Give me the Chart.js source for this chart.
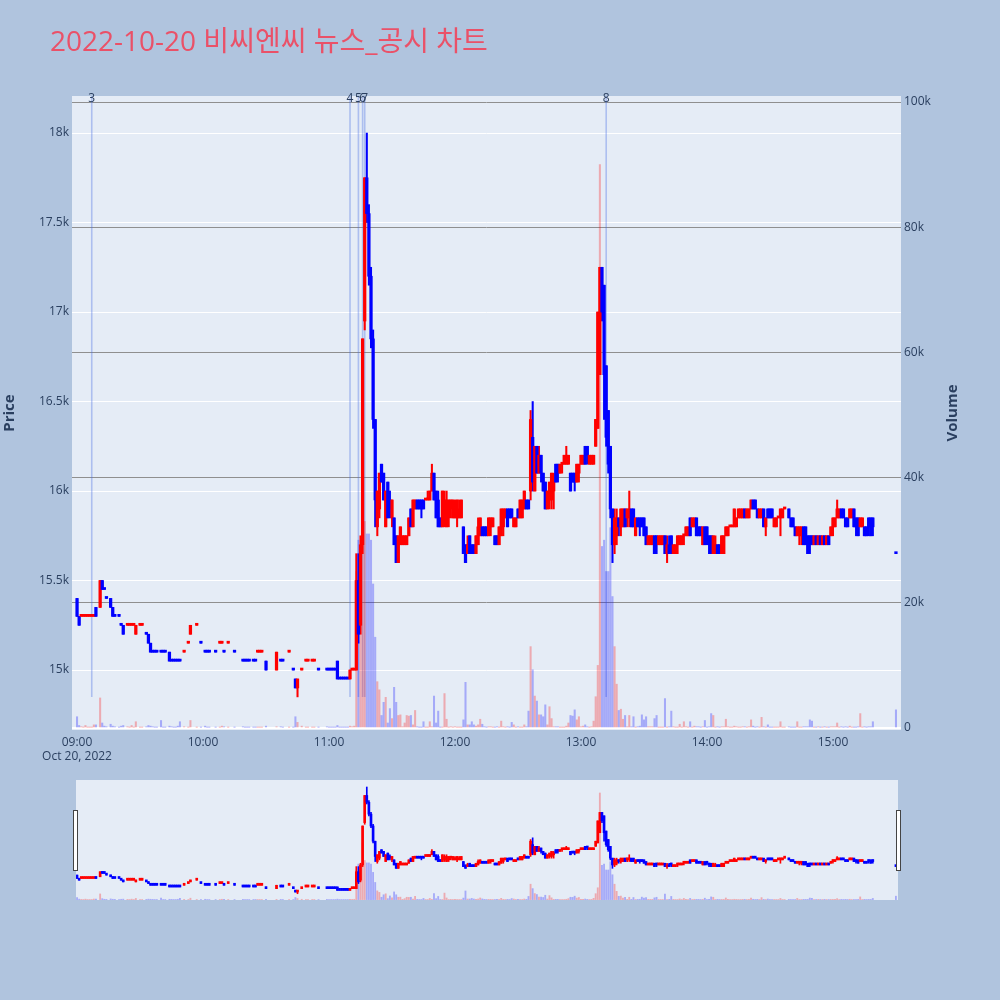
<!DOCTYPE html>
<html>
<head>
<meta charset="utf-8">
<script src="https://cdn.jsdelivr.net/npm/chart.js@4.4.0/dist/chart.umd.min.js"></script>
<style>
  html, body { margin: 0; padding: 0; background: #b0c4de; }
  #wrap { position: relative; width: 1000px; height: 1000px; }
  #main { position: absolute; left: 0; top: 0; }
  #slider { position: absolute; left: 70px; top: 780px; }
  #title {
    position: absolute; left: 50px; top: 26px;
    font-family: 'Open Sans', 'Noto Sans CJK KR', sans-serif;
    font-size: 28px; line-height: 28px; color: #ea5168; white-space: nowrap;
  }
</style>
</head>
<body>
<div id="wrap">
  <canvas id="main" width="1000" height="1000"></canvas>
  <canvas id="slider" width="834" height="120"></canvas>
  <div id="title">2022-10-20 비씨엔씨 뉴스_공시 차트</div>
</div>
<script>
const _ = null;

// one entry per minute after 09:00 (index 0 = 09:00), null = no trade
const opens = [
  15400,15300,15300,15300,15300,15300,15300,15300,15300,15350,
  _,15350,15500,15450,15400,_,15400,15350,15300,_,
  15300,15250,15250,_,15250,15250,15250,15250,15200,_,
  15250,15250,_,15200,15200,15150,15100,15100,15100,_,
  15100,15100,15100,_,15100,15050,15050,15050,15050,15050,
  _,15100,_,15150,15200,_,_,15250,_,15150,
  _,15100,15100,15100,_,_,15100,_,15150,15150,
  15100,_,15150,_,_,15100,_,_,_,15050,
  15050,15050,15050,_,15050,15050,15100,15100,15100,_,
  15050,_,_,_,_,15000,_,15050,15050,_,
  _,15100,_,15000,14950,14900,_,15000,_,15050,
  15050,_,15050,15050,_,15000,_,_,_,15000,
  15000,15000,15000,15000,15050,14950,14950,14950,14950,14950,
  14950,15000,15000,15000,15500,15250,15700,16950,17750,17550,
  17200,16850,16400,15800,15900,16150,16100,15800,16050,15950,
  15850,15850,15750,15600,15700,15700,15700,15700,15750,15900,
  15800,15900,15950,15950,15950,15950,15950,15950,15950,16000,
  16100,16000,15950,15850,15800,15850,15800,15850,15900,15850,
  15850,15850,15850,15850,15800,15700,15650,15750,15700,15700,
  15650,15700,15750,15800,15800,15800,15750,15800,15800,15750,
  15750,15700,15750,15800,15850,15900,15900,15900,15800,15800,
  15900,15850,15850,15900,15950,15950,16000,16300,16000,16250,
  16100,16200,16100,16050,15900,15950,15950,16000,16150,16150,
  16100,16150,16150,16150,16150,16100,16100,16100,16050,16100,
  16150,16150,16250,16250,16150,16150,16150,16250,16350,16650,
  17250,17150,16700,16450,16250,15900,15700,15750,15850,15800,
  15800,15900,15850,15850,15900,15900,15750,15850,15850,15850,
  15850,15800,15700,15700,15700,15750,15750,15700,15700,15700,
  15750,15650,15700,15750,15650,15650,15700,15700,15700,15750,
  15750,15750,15850,15800,15800,15850,15800,15800,15700,15800,
  15800,15750,15750,15650,15650,15700,15700,15650,15650,15750,
  15750,15800,15800,15800,15800,15850,15850,15850,15900,15850,
  15850,15900,15950,15950,15900,15850,15850,15900,15800,15900,
  15900,15900,15800,15800,15850,15850,15850,15900,_,15900,
  15850,15850,15800,15750,15750,15750,15800,15800,15750,15750,
  15750,15700,15750,15700,15750,15700,15750,15700,15750,15750,
  15800,15800,15850,15850,15900,15900,15850,15850,15850,15850,
  15900,15850,15850,15800,15800,15800,15800,15850,15850,15850,
  _,_,_,_,_,_,_,_,_,_,
  15650
];

const highs = [
  15400,15300,15300,15300,15300,15300,15300,15300,15300,15350,
  _,15500,15500,15450,15400,_,15400,15350,15300,_,
  15300,15250,15250,_,15250,15250,15250,15250,15250,_,
  15250,15250,_,15200,15200,15150,15100,15100,15100,_,
  15100,15100,15100,_,15100,15050,15050,15050,15050,15050,
  _,15100,_,15150,15250,_,_,15250,_,15150,
  _,15100,15100,15100,_,_,15100,_,15150,15150,
  15100,_,15150,_,_,15100,_,_,_,15050,
  15050,15050,15050,_,15050,15050,15100,15100,15100,_,
  15050,_,_,_,_,15100,_,15050,15050,_,
  _,15100,_,15000,14950,14950,_,15000,_,15050,
  15050,_,15050,15050,_,15000,_,_,_,15000,
  15000,15000,15000,15000,15050,14950,14950,14950,14950,14950,
  15000,15000,15000,15650,15650,15750,16850,17750,18000,17600,
  17250,16900,16400,16000,16100,16150,16100,16000,16050,16000,
  15950,15850,15750,15750,15800,15750,15750,15750,15850,15900,
  15950,15950,15950,15950,15950,15950,15950,16000,16000,16150,
  16100,16000,16000,15850,16000,16000,16000,15950,15950,15950,
  15950,15950,15950,15950,15800,15700,15750,15750,15700,15700,
  15750,15850,15850,15800,15800,15800,15850,15850,15850,15750,
  15750,15800,15900,15900,15900,15900,15900,15900,15850,15850,
  15900,15950,15950,16000,15950,15950,16450,16500,16250,16250,
  16250,16200,16100,16050,16000,16050,16100,16100,16150,16150,
  16150,16150,16200,16250,16200,16100,16100,16100,16150,16150,
  16200,16200,16250,16250,16200,16200,16200,16400,17000,17250,
  17250,17150,16700,16450,16250,15900,15900,15900,15850,15900,
  15900,15900,15900,16000,15900,15900,15850,15850,15850,15850,
  15850,15800,15750,15750,15750,15750,15750,15750,15750,15750,
  15750,15750,15750,15750,15700,15700,15750,15750,15750,15750,
  15800,15800,15850,15850,15850,15850,15800,15800,15800,15800,
  15800,15750,15750,15750,15750,15700,15700,15750,15750,15800,
  15800,15800,15800,15900,15850,15900,15900,15900,15900,15900,
  15900,15950,15950,15950,15900,15900,15900,15900,15850,15900,
  15900,15900,15850,15850,15850,15900,15900,15900,_,15900,
  15850,15850,15800,15800,15800,15800,15800,15800,15750,15750,
  15750,15750,15750,15750,15750,15750,15750,15750,15750,15800,
  15850,15850,15950,15900,15900,15900,15850,15850,15900,15900,
  15900,15850,15850,15850,15850,15800,15800,15850,15850,15850,
  _,_,_,_,_,_,_,_,_,_,
  15650
];

const lows = [
  15300,15250,15300,15300,15300,15300,15300,15300,15300,15300,
  _,15350,15450,15450,15400,_,15350,15300,15300,_,
  15300,15250,15200,_,15250,15250,15250,15250,15200,_,
  15250,15250,_,15200,15150,15100,15100,15100,15100,_,
  15100,15100,15100,_,15050,15050,15050,15050,15050,15050,
  _,15100,_,15150,15200,_,_,15250,_,15150,
  _,15100,15100,15100,_,_,15100,_,15150,15150,
  15100,_,15150,_,_,15100,_,_,_,15050,
  15050,15050,15050,_,15050,15050,15100,15100,15100,_,
  15000,_,_,_,_,15000,_,15050,15050,_,
  _,15100,_,15000,14900,14850,_,15000,_,15050,
  15050,_,15050,15050,_,15000,_,_,_,15000,
  15000,15000,15000,15000,14950,14950,14950,14950,14950,14950,
  14950,15000,15000,15000,15150,15200,15650,16900,17500,17150,
  16800,16350,15800,15750,15850,16050,15950,15800,15850,15850,
  15800,15700,15600,15600,15700,15700,15700,15700,15750,15800,
  15800,15900,15900,15900,15850,15900,15950,15950,15950,16000,
  15950,15850,15800,15800,15800,15800,15800,15800,15850,15850,
  15850,15800,15850,15850,15650,15600,15650,15650,15650,15650,
  15650,15700,15750,15750,15750,15750,15750,15750,15800,15700,
  15700,15700,15750,15750,15850,15800,15850,15850,15800,15800,
  15850,15850,15850,15900,15900,15900,15950,16000,16000,16100,
  16100,16050,16000,15900,15900,15900,15900,15900,16050,16050,
  16100,16100,16150,16150,16150,16000,16050,16000,16050,16050,
  16150,16150,16150,16150,16150,16150,16150,16250,16350,16650,
  16950,16400,16250,16100,15850,15600,15650,15700,15750,15750,
  15800,15800,15800,15800,15800,15800,15750,15800,15750,15800,
  15750,15700,15700,15700,15700,15650,15650,15700,15700,15700,
  15650,15600,15650,15650,15650,15650,15650,15700,15700,15700,
  15750,15750,15750,15800,15800,15750,15750,15750,15700,15700,
  15700,15650,15650,15650,15650,15650,15650,15650,15650,15750,
  15750,15800,15800,15800,15800,15850,15850,15850,15850,15850,
  15850,15900,15900,15900,15850,15850,15850,15800,15750,15850,
  15850,15850,15800,15800,15850,15750,15850,15900,_,15850,
  15800,15800,15750,15750,15700,15700,15700,15700,15650,15650,
  15700,15700,15700,15700,15700,15700,15700,15700,15700,15750,
  15750,15800,15850,15850,15850,15850,15800,15800,15850,15850,
  15800,15750,15750,15800,15800,15750,15750,15750,15750,15750,
  _,_,_,_,_,_,_,_,_,_,
  15650
];

const closes = [
  15300,15250,15300,15300,15300,15300,15300,15300,15300,15300,
  _,15500,15450,15450,15400,_,15350,15300,15300,_,
  15300,15250,15200,_,15250,15250,15250,15250,15250,_,
  15250,15250,_,15200,15150,15100,15100,15100,15100,_,
  15100,15100,15100,_,15050,15050,15050,15050,15050,15050,
  _,15100,_,15150,15250,_,_,15250,_,15150,
  _,15100,15100,15100,_,_,15100,_,15150,15150,
  15100,_,15150,_,_,15100,_,_,_,15050,
  15050,15050,15050,_,15050,15050,15100,15100,15100,_,
  15000,_,_,_,_,15100,_,15050,15050,_,
  _,15100,_,15000,14900,14950,_,15000,_,15050,
  15050,_,15050,15050,_,15000,_,_,_,15000,
  15000,15000,15000,15000,14950,14950,14950,14950,14950,14950,
  15000,15000,15000,15500,15200,15700,16850,17750,17550,17200,
  16850,16400,15950,16000,16100,16050,15950,16000,15850,15900,
  15950,15700,15600,15750,15800,15750,15750,15750,15850,15800,
  15950,15950,15900,15900,15900,15900,15950,15950,16000,16100,
  15950,15850,15800,15800,16000,15950,15950,15950,15950,15950,
  15900,15950,15900,15950,15650,15600,15700,15650,15650,15650,
  15750,15800,15850,15750,15750,15750,15850,15850,15850,15700,
  15700,15800,15900,15900,15900,15800,15850,15850,15850,15850,
  15850,15950,15950,16000,15900,15900,16400,16050,16250,16100,
  16200,16100,16000,15900,16000,16050,16100,16050,16050,16100,
  16150,16150,16200,16200,16200,16000,16050,16050,16150,16150,
  16200,16200,16150,16200,16200,16200,16200,16400,17000,17250,
  17000,16650,16300,16150,15900,15700,15850,15850,15800,15900,
  15900,15800,15900,15900,15800,15800,15850,15800,15800,15800,
  15750,15700,15750,15750,15750,15650,15700,15750,15750,15750,
  15650,15700,15650,15700,15700,15700,15750,15750,15750,15750,
  15800,15800,15750,15850,15850,15750,15750,15750,15800,15700,
  15750,15700,15650,15750,15700,15650,15650,15750,15750,15800,
  15800,15800,15800,15900,15850,15900,15900,15900,15850,15900,
  15900,15950,15900,15900,15850,15900,15900,15800,15850,15850,
  15850,15850,15850,15850,15850,15900,15900,15900,_,15850,
  15800,15800,15750,15800,15800,15800,15700,15700,15650,15700,
  15700,15750,15700,15750,15700,15750,15700,15750,15700,15800,
  15850,15850,15900,15900,15850,15850,15800,15800,15900,15900,
  15800,15800,15750,15850,15850,15750,15750,15800,15750,15800,
  _,_,_,_,_,_,_,_,_,_,
  15650
];

const volumes = [
  1800,400,200,100,400,100,100,100,500,500,
  _,4800,800,300,200,_,600,300,200,_,
  100,300,400,_,200,100,400,100,1000,_,
  100,100,_,200,400,300,200,100,100,_,
  1200,100,100,_,300,200,100,100,300,1000,
  _,200,_,100,1200,_,_,100,_,100,
  _,300,100,100,_,_,100,_,100,300,
  200,_,100,_,_,100,_,_,_,200,
  100,100,100,_,100,100,100,100,100,_,
  300,_,_,_,_,200,_,200,100,_,
  _,100,_,100,1800,900,_,300,_,100,
  100,_,100,100,_,100,_,_,_,200,
  100,100,100,100,400,100,100,100,100,100,
  300,200,300,25000,30000,28000,48000,33000,31000,31000,
  30000,23000,14500,7400,6100,2000,4100,4900,800,3100,
  1500,6500,4100,2000,2100,200,800,2000,1900,2000,
  500,2800,200,100,100,1000,100,100,1000,200,
  5100,800,2700,100,100,5500,1400,100,200,100,
  200,100,100,100,1300,7300,500,500,1000,500,
  300,500,1400,600,200,100,200,200,100,100,
  200,100,1100,200,100,200,100,900,500,100,
  200,100,100,500,200,2700,13000,9300,5100,4300,
  2100,2100,1800,3700,500,3400,1500,200,200,200,
  100,100,100,300,800,2000,1900,2900,1300,1800,
  200,300,500,200,100,200,1100,5000,10000,90000,
  29000,30000,25000,25000,32000,21000,13000,7000,2800,3000,
  1400,2000,200,2000,200,1800,100,200,300,2100,
  1300,1800,200,200,200,1500,2000,100,100,100,
  4700,100,200,2700,200,100,100,600,100,1000,
  200,100,1000,100,300,200,200,100,200,1200,
  100,200,2300,2000,100,200,100,200,200,1400,
  200,100,100,300,200,100,100,200,200,100,
  200,1300,300,100,200,100,1700,200,100,500,
  100,100,100,100,100,1000,100,100,_,200,
  100,100,100,1000,100,100,200,200,200,1300,
  1100,100,100,200,100,100,200,100,100,200,
  200,200,800,100,200,100,200,100,300,100,
  100,100,200,2300,100,200,100,200,200,1000,
  _,_,_,_,_,_,_,_,_,_,
  2900
];

const tickMinutes = [0, 60, 120, 180, 240, 300, 360];
const tickLabels = ['09:00', '10:00', '11:00', '12:00', '13:00', '14:00', '15:00'];
const dateLabel = 'Oct 20, 2022';
const priceTicks = [15000, 15500, 16000, 16500, 17000, 17500, 18000];
const volumeTicks = [0, 20000, 40000, 60000, 80000, 100000];

const newsTimes = ['09:07', '11:10', '11:14', '11:16', '11:17', '13:12'];
const newsLabels = ['3', '4', '5', '6', '7', '8'];
const newsLineLow = 14850;

const xRange = [-2.4, 392.4];
const sliderXRange = [-0.5, 391];
const priceRange = [14665, 18207];
const volumeRange = [-320, 100960];

const UP = '#ff0000', DOWN = '#0000ff';
const UP_VOL = 'rgba(255,0,0,0.28)', DOWN_VOL = 'rgba(0,0,255,0.28)';
const PLOT_BG = '#e5ecf6';
const TEXT = '#2a3f5f';

Chart.defaults.font.family = "'Open Sans', 'Noto Sans', sans-serif";
Chart.defaults.font.size = 12;
Chart.defaults.color = TEXT;

function toMinute(t) {
  const [h, m] = t.split(':').map(Number);
  return (h - 9) * 60 + m;
}

// candle colour: close vs open, ties broken by previous close, then previous colour
const wicks = [], bodies = [], vols = [], colors = [], volColors = [];
let prevClose = null, prevUp = false;
for (let i = 0; i < closes.length; i++) {
  if (closes[i] === null) continue;
  const o = opens[i], c = closes[i];
  let up;
  if (c > o) up = true;
  else if (c < o) up = false;
  else if (prevClose !== null && c !== prevClose) up = c > prevClose;
  else up = prevUp;
  prevClose = c;
  prevUp = up;
  wicks.push({ x: i, y: [lows[i], highs[i]] });
  bodies.push({ x: i, y: [Math.min(o, c), Math.max(o, c)] });
  vols.push({ x: i, y: volumes[i] });
  colors.push(up ? UP : DOWN);
  volColors.push(up ? UP_VOL : DOWN_VOL);
}

function datasets(bodyW, wickW, volW) {
  return [
    { label: 'body', data: bodies.slice(), backgroundColor: colors, barThickness: bodyW,
      minBarLength: 2, grouped: false, order: 1, yAxisID: 'y' },
    { label: 'wick', data: wicks.slice(), backgroundColor: colors, barThickness: wickW,
      grouped: false, order: 2, yAxisID: 'y' },
    { label: 'volume', data: vols.slice(), backgroundColor: volColors, barThickness: volW,
      grouped: false, order: 3, yAxisID: 'y2' }
  ];
}

function fillPlot(chart) {
  const { ctx, chartArea: a } = chart;
  ctx.save();
  ctx.fillStyle = PLOT_BG;
  ctx.fillRect(a.left, a.top, a.right - a.left, a.bottom - a.top);
  ctx.restore();
}

const mainDecor = {
  id: 'mainDecor',
  beforeDraw: fillPlot,
  beforeDatasetsDraw(chart) {
    const { ctx, chartArea: a, scales } = chart;
    ctx.save();
    ctx.strokeStyle = 'rgba(65,105,225,0.35)';
    ctx.lineWidth = 1.6;
    newsTimes.forEach(t => {
      const x = scales.x.getPixelForValue(toMinute(t));
      ctx.beginPath();
      ctx.moveTo(x, scales.y.getPixelForValue(newsLineLow));
      ctx.lineTo(x, a.top);
      ctx.stroke();
    });
    ctx.restore();
  },
  afterDraw(chart) {
    const { ctx, chartArea: a, scales } = chart;
    ctx.save();
    ctx.fillStyle = TEXT;
    ctx.font = "12px 'Open Sans', sans-serif";
    ctx.textAlign = 'center';
    ctx.textBaseline = 'alphabetic';
    newsTimes.forEach((t, i) => {
      ctx.fillText(newsLabels[i], scales.x.getPixelForValue(toMinute(t)), a.top + 5.5);
    });
    ctx.translate(953, (a.top + a.bottom) / 2);
    ctx.rotate(-Math.PI / 2);
    ctx.font = "bold 15px 'Open Sans', sans-serif";
    ctx.textBaseline = 'middle';
    ctx.fillText('Volume', 0, 0);
    ctx.restore();
  }
};

new Chart(document.getElementById('main'), {
  type: 'bar',
  data: { datasets: datasets(2.6, 1.4, 1.4) },
  options: {
    responsive: false,
    animation: false,
    layout: { padding: { top: 96, bottom: 230, left: 0, right: 0 } },
    plugins: { legend: { display: false }, tooltip: { enabled: false } },
    scales: {
      x: {
        type: 'linear', min: xRange[0], max: xRange[1], offset: false,
        grid: { display: false, drawTicks: false }, border: { display: false },
        afterBuildTicks: s => { s.ticks = tickMinutes.map(v => ({ value: v })); },
        afterFit: s => { s.height = 40; s.paddingLeft = 0; s.paddingRight = 0; },
        ticks: {
          padding: 5, maxRotation: 0, autoSkip: false,
          callback: (v, i) => i === 0 ? [tickLabels[0], dateLabel] : tickLabels[i]
        }
      },
      y: {
        position: 'left', min: priceRange[0], max: priceRange[1],
        grid: { color: '#ffffff', lineWidth: 1, drawTicks: false }, border: { display: false },
        afterBuildTicks: s => { s.ticks = priceTicks.map(v => ({ value: v })); },
        afterFit: s => { s.width = 72; s.paddingTop = 0; s.paddingBottom = 0; },
        ticks: { padding: 3, callback: v => (v / 1000) + 'k' },
        title: { display: true, text: 'Price', color: TEXT, padding: { top: 1, bottom: 0 },
                 font: { size: 15, weight: 'bold' } }
      },
      y2: {
        position: 'right', min: volumeRange[0], max: volumeRange[1],
        grid: {
          drawTicks: false,
          color: c => c.tick && c.tick.value === 0 ? '#ffffff' : '#8f8f8f',
          lineWidth: c => c.tick && c.tick.value === 0 ? 2 : 1
        },
        border: { display: false },
        afterBuildTicks: s => { s.ticks = volumeTicks.map(v => ({ value: v })); },
        afterFit: s => { s.width = 99; s.paddingTop = 0; s.paddingBottom = 0; },
        ticks: { padding: 3, callback: v => v === 0 ? '0' : (v / 1000) + 'k' }
      }
    }
  },
  plugins: [mainDecor]
});

const sliderDecor = {
  id: 'sliderDecor',
  beforeDraw: fillPlot,
  afterDraw(chart) {
    const { ctx, chartArea: a } = chart;
    ctx.save();
    ctx.fillStyle = '#ffffff';
    ctx.strokeStyle = '#444444';
    ctx.lineWidth = 1;
    [a.left - 3, a.right - 2].forEach(x => {
      ctx.fillRect(x, 30.5, 4, 60);
      ctx.strokeRect(x + 0.5, 30.5, 4, 60);
    });
    ctx.restore();
  }
};

new Chart(document.getElementById('slider'), {
  type: 'bar',
  data: { datasets: datasets(2, 1, 1.2) },
  options: {
    responsive: false,
    animation: false,
    layout: { padding: { top: 0, bottom: 0, left: 6, right: 6 } },
    plugins: { legend: { display: false }, tooltip: { enabled: false } },
    scales: {
      x: { type: 'linear', display: false, min: sliderXRange[0], max: sliderXRange[1], offset: false },
      y: { display: false, min: priceRange[0], max: priceRange[1] },
      y2: { display: false, min: volumeRange[0], max: volumeRange[1] }
    }
  },
  plugins: [sliderDecor]
});
</script>
</body>
</html>
